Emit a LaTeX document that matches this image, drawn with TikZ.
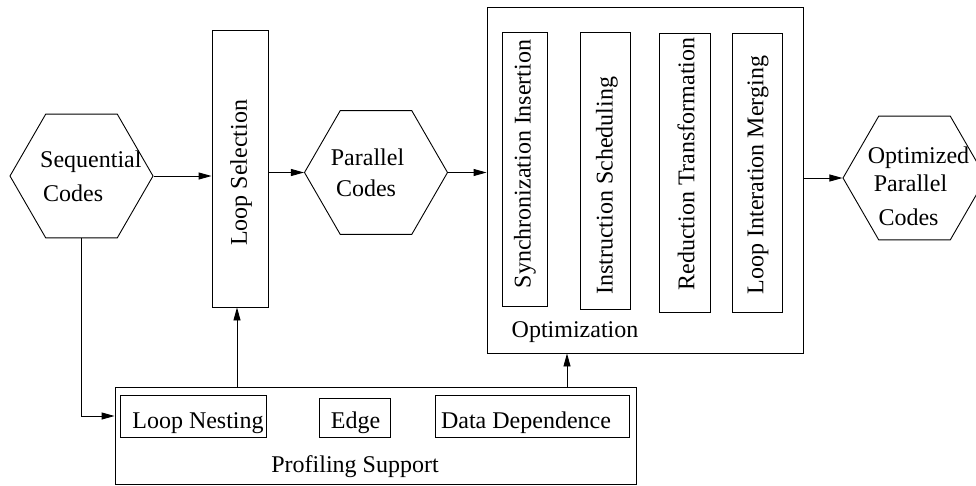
\documentclass[tikz,border=0pt]{standalone}
\usepackage{fontspec}
\setmainfont{Liberation Serif}
\usetikzlibrary{shapes.geometric,arrows.meta}
\begin{document}
\begin{tikzpicture}[x=1pt,y=-1pt,
  every node/.style={font=\fontsize{24}{28}\selectfont},
  box/.style={draw, line width=0.9pt, rectangle, inner sep=0pt},
  hexa/.style={draw, line width=0.9pt, regular polygon, regular polygon sides=6,
               minimum size=143pt, inner sep=0pt},
  lbl/.style={inner sep=0pt, anchor=base},
  vlbl/.style={inner sep=0pt, rotate=90},
  arr/.style={line width=0.9pt, -{Triangle[length=13pt,width=7pt]}},
  conn/.style={line width=0.9pt}]
\fill[white] (0,0) rectangle (976,485);
\useasboundingbox (0,0) rectangle (976,485);

% code hexagons
\node[hexa] (seq) at (81.5,176) {};
\node[hexa] (par) at (376,172.5) {};
\node[hexa] (opt) at (914.5,178) {};
\node[lbl, anchor=base west] (seqa) at (40,167) {Sequential};
\node[lbl, anchor=base west] (seqb) at (43,201) {Codes};
\node[lbl] (para) at (367.5,165) {Parallel};
\node[lbl] (parb) at (366,196) {Codes};
\node[lbl] (opta) at (918.5,163) {Optimized};
\node[lbl] (optb) at (910.5,191) {Parallel};
\node[lbl] (optc) at (908.5,225) {Codes};

% loop selection
\node[box, minimum width=56pt, minimum height=277pt] (loopsel) at (240,168.5) {};
\node[vlbl] (loopselt) at (241,173) {Loop Selection};

% optimization stage
\node[box, minimum width=316pt, minimum height=346pt] (optbox) at (645,180) {};
\node[box, minimum width=45pt, minimum height=274pt] (sync) at (524.5,169) {};
\node[box, minimum width=50pt, minimum height=277pt] (instr) at (605,170.5) {};
\node[box, minimum width=51pt, minimum height=279pt] (reduc) at (684.5,172.5) {};
\node[box, minimum width=50pt, minimum height=279pt] (merge) at (757,172.5) {};
\node[vlbl] (synct) at (525,164) {Synchronization Insertion};
\node[vlbl] (instrt) at (607,186) {Instruction Scheduling};
\node[vlbl] (reduct) at (686,164) {Reduction Transformation};
\node[vlbl] (merget) at (758,175) {Loop Interation Merging};
\node[lbl] (optlbl) at (575,337) {Optimization};

% profiling support
\node[box, minimum width=521pt, minimum height=97pt] (prof) at (375.5,435.5) {};
\node[box, minimum width=146pt, minimum height=42pt] (nest) at (193,416) {};
\node[box, minimum width=71pt, minimum height=39pt] (edge) at (354.5,417.5) {};
\node[box, minimum width=194pt, minimum height=42pt] (dep) at (532,416) {};
\node[lbl] (nestt) at (198,428) {Loop Nesting};
\node[lbl] (edget) at (355.5,428) {Edge};
\node[lbl] (dept) at (526,428) {Data Dependence};
\node[lbl] (proflbl) at (355,472) {Profiling Support};

% connectors
\coordinate (profup) at (567,387);
\coordinate (profsel) at (237,387);
\draw[arr] (seq.east) -- (seq.east -| loopsel.west);
\draw[arr] (loopsel.east |- par.west) -- (par.west);
\draw[arr] (par.east) -- (par.east -| optbox.west);
\draw[arr] (optbox.east |- opt.west) -- (opt.west);
\draw[arr] (seq.south) |- (prof.west |- nest.center);
\draw[arr] (profsel) -- (profsel |- loopsel.south);
\draw[arr] (profup) -- (profup |- optbox.south);
\end{tikzpicture}
\end{document}
